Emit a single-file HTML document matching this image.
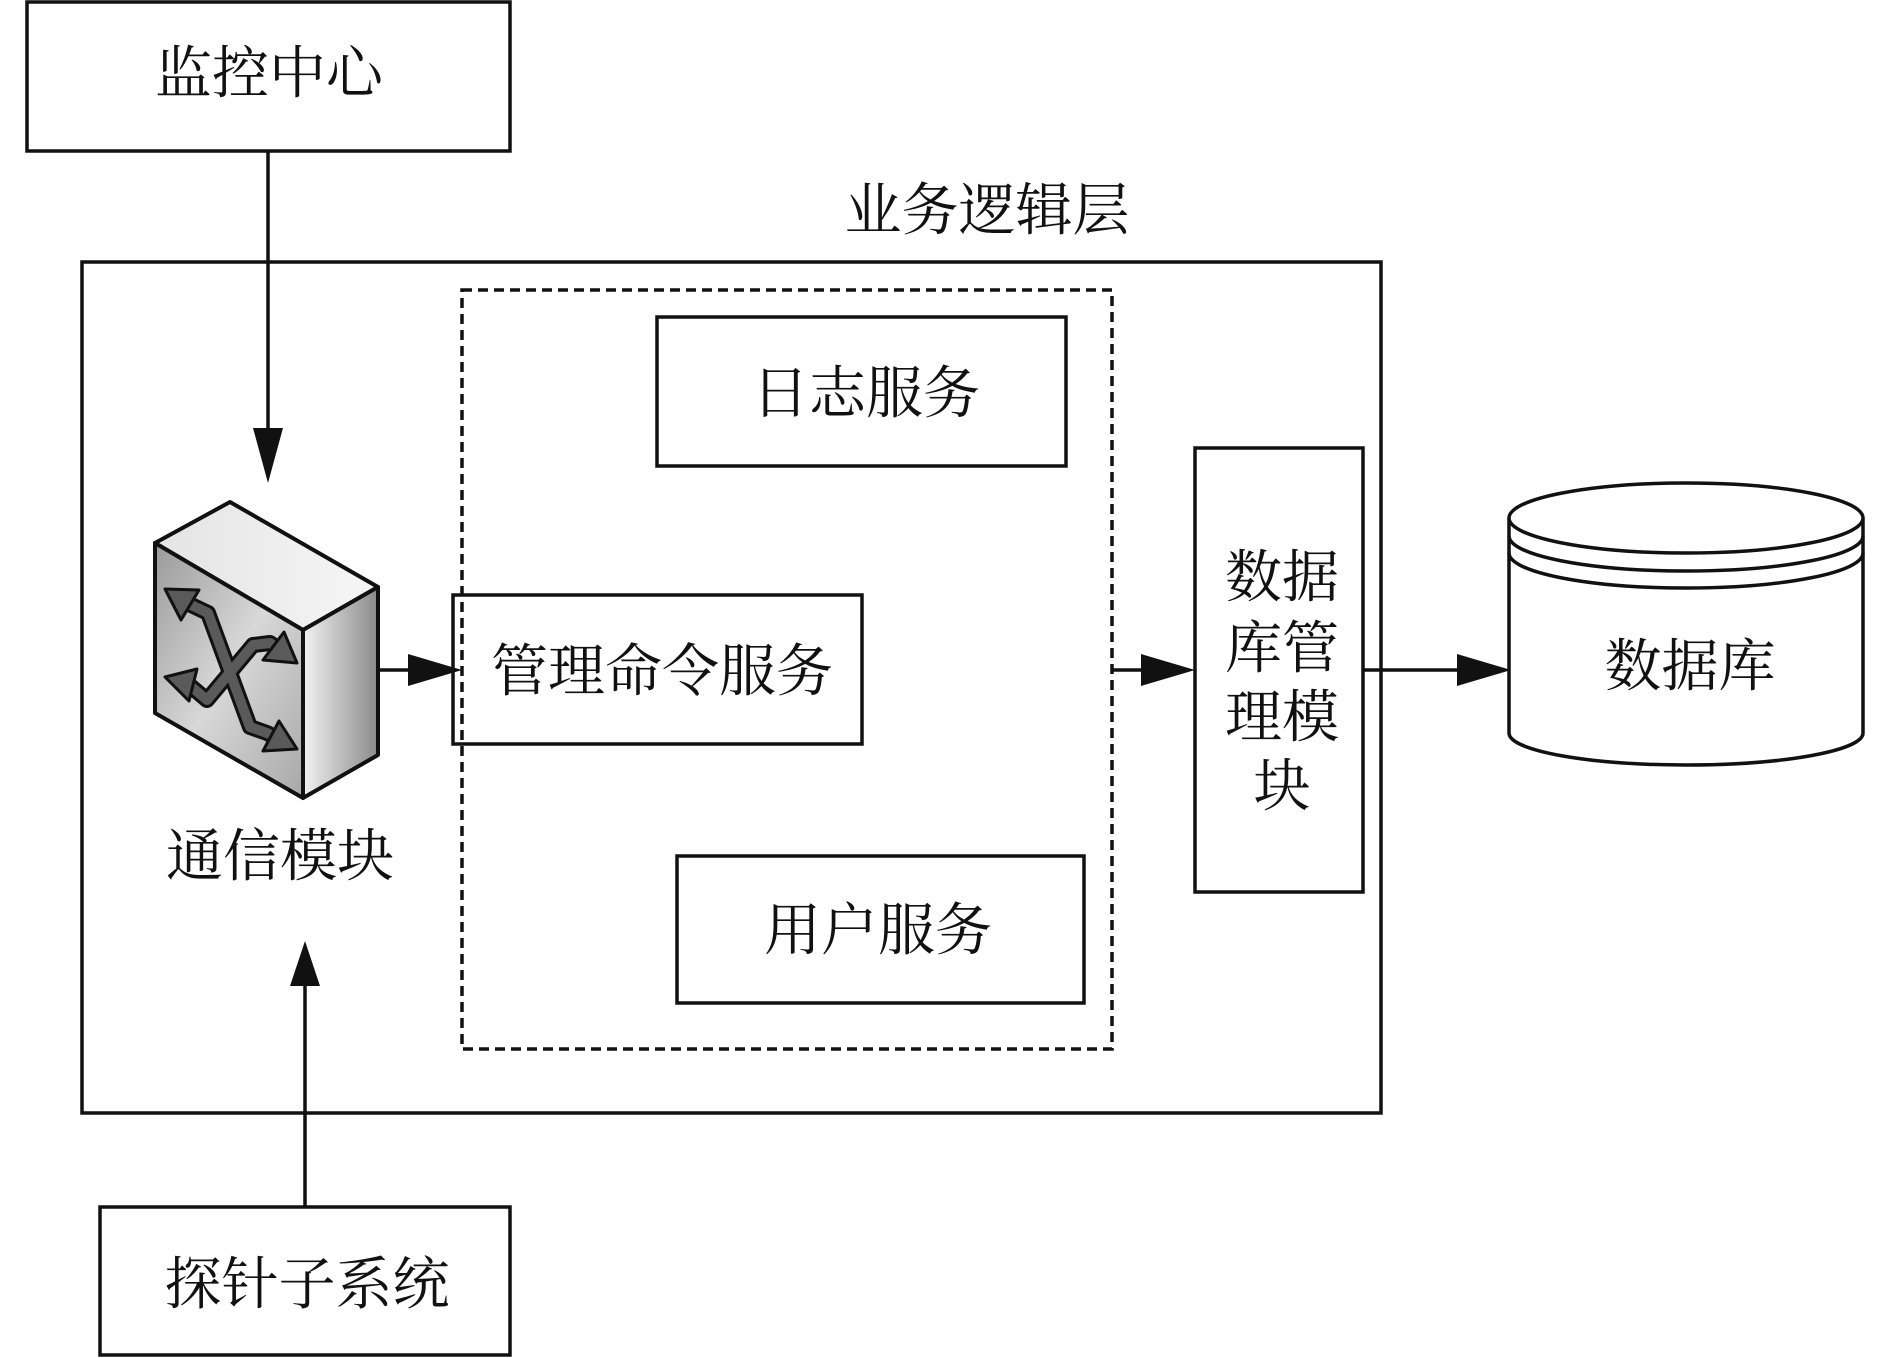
<!DOCTYPE html>
<html><head><meta charset="utf-8"><style>
html,body{margin:0;padding:0;background:#fff;}
svg{display:block;}
text{font-family:"Liberation Serif","Noto Serif CJK SC",serif;font-size:57px;fill:#111;text-anchor:middle;dominant-baseline:central;}
</style></head><body>
<svg width="1890" height="1358" viewBox="0 0 1890 1358" xmlns="http://www.w3.org/2000/svg">
<defs>
<linearGradient id="gf" x1="0" y1="0" x2="1" y2="1"><stop offset="0" stop-color="#9a9a9a"/><stop offset="0.5" stop-color="#d8d8d8"/><stop offset="1" stop-color="#a8a8a8"/></linearGradient>
<linearGradient id="gt" x1="0" y1="0" x2="1" y2="0"><stop offset="0" stop-color="#e4e4e4"/><stop offset="1" stop-color="#f6f6f6"/></linearGradient>
<linearGradient id="gr" x1="0" y1="0" x2="1" y2="0"><stop offset="0" stop-color="#f2f2f2"/><stop offset="1" stop-color="#8a8a8a"/></linearGradient>
</defs>
<g fill="none" stroke="#111" stroke-width="3.5">
<rect x="27" y="2" width="483" height="149"/>
<rect x="82" y="262" width="1299" height="851"/>
<rect x="462" y="290" width="650" height="759" stroke-dasharray="10,6"/>
<rect x="657" y="317" width="409" height="149"/>
<rect x="453" y="595" width="409" height="149"/>
<rect x="677" y="856" width="407" height="147"/>
<rect x="1195" y="448" width="168" height="444"/>
<rect x="100" y="1207" width="410" height="148"/>
<line x1="268" y1="151" x2="268" y2="440"/>
<line x1="305" y1="975" x2="305" y2="1207"/>
<line x1="378" y1="670" x2="420" y2="670"/>
<line x1="1112" y1="670" x2="1150" y2="670"/>
<line x1="1363" y1="670" x2="1470" y2="670"/>
</g>
<g fill="#111">
<polygon points="253,428 283,428 268,483"/>
<polygon points="290,986 320,986 305,941"/>
<polygon points="408,654 408,686 462,670"/>
<polygon points="1141,654 1141,686 1195,670"/>
<polygon points="1457,654 1457,686 1511,670"/>
</g>
<!-- switch -->
<g stroke="#111" stroke-width="4" stroke-linejoin="round">
<polygon points="230,502 378,587 303,630 155,543" fill="url(#gt)"/>
<polygon points="155,543 303,630 303,798 155,713" fill="url(#gf)"/>
<polygon points="303,630 378,587 378,755 303,798" fill="url(#gr)"/>
</g>
<g fill="none" stroke-linejoin="round">
<polyline points="187,603 208,613 250,727 267,733 275,737" stroke="#111" stroke-width="16"/>
<polyline points="187,683 207,700 253,645 270,643 277,648" stroke="#111" stroke-width="16"/>
<polyline points="187,603 208,613 250,727 267,733 275,737" stroke="#5a5a5a" stroke-width="10"/>
<polyline points="187,683 207,700 253,645 270,643 277,648" stroke="#5a5a5a" stroke-width="10"/>
</g>
<g fill="#5a5a5a" stroke="#111" stroke-width="3" stroke-linejoin="round">
<polygon points="165,589 199,590 181,620"/>
<polygon points="297,749 279,721 263,751"/>
<polygon points="165,677 197,669 189,701"/>
<polygon points="297,663 284,632 263,660"/>
</g>
<!-- cylinder -->
<g stroke="#111" stroke-width="3.5" fill="#fff">
<path d="M1509,518 L1509,733 A177,32 0 0 0 1863,733 L1863,518"/>
<ellipse cx="1686" cy="518" rx="177" ry="35"/>
<path d="M1509,536 A177,35 0 0 0 1863,536" fill="none"/>
<path d="M1509,553 A177,35 0 0 0 1863,553" fill="none"/>
</g>
<text x="269" y="74">监控中心</text>
<text x="987" y="211">业务逻辑层</text>
<text x="866" y="394">日志服务</text>
<text x="662" y="672">管理命令服务</text>
<text x="878" y="931">用户服务</text>
<text x="1282" y="578">数据</text>
<text x="1282" y="649">库管</text>
<text x="1282" y="718">理模</text>
<text x="1282" y="787">块</text>
<text x="280" y="857">通信模块</text>
<text x="307" y="1285">探针子系统</text>
<text x="1690" y="667">数据库</text>
</svg>
</body></html>
